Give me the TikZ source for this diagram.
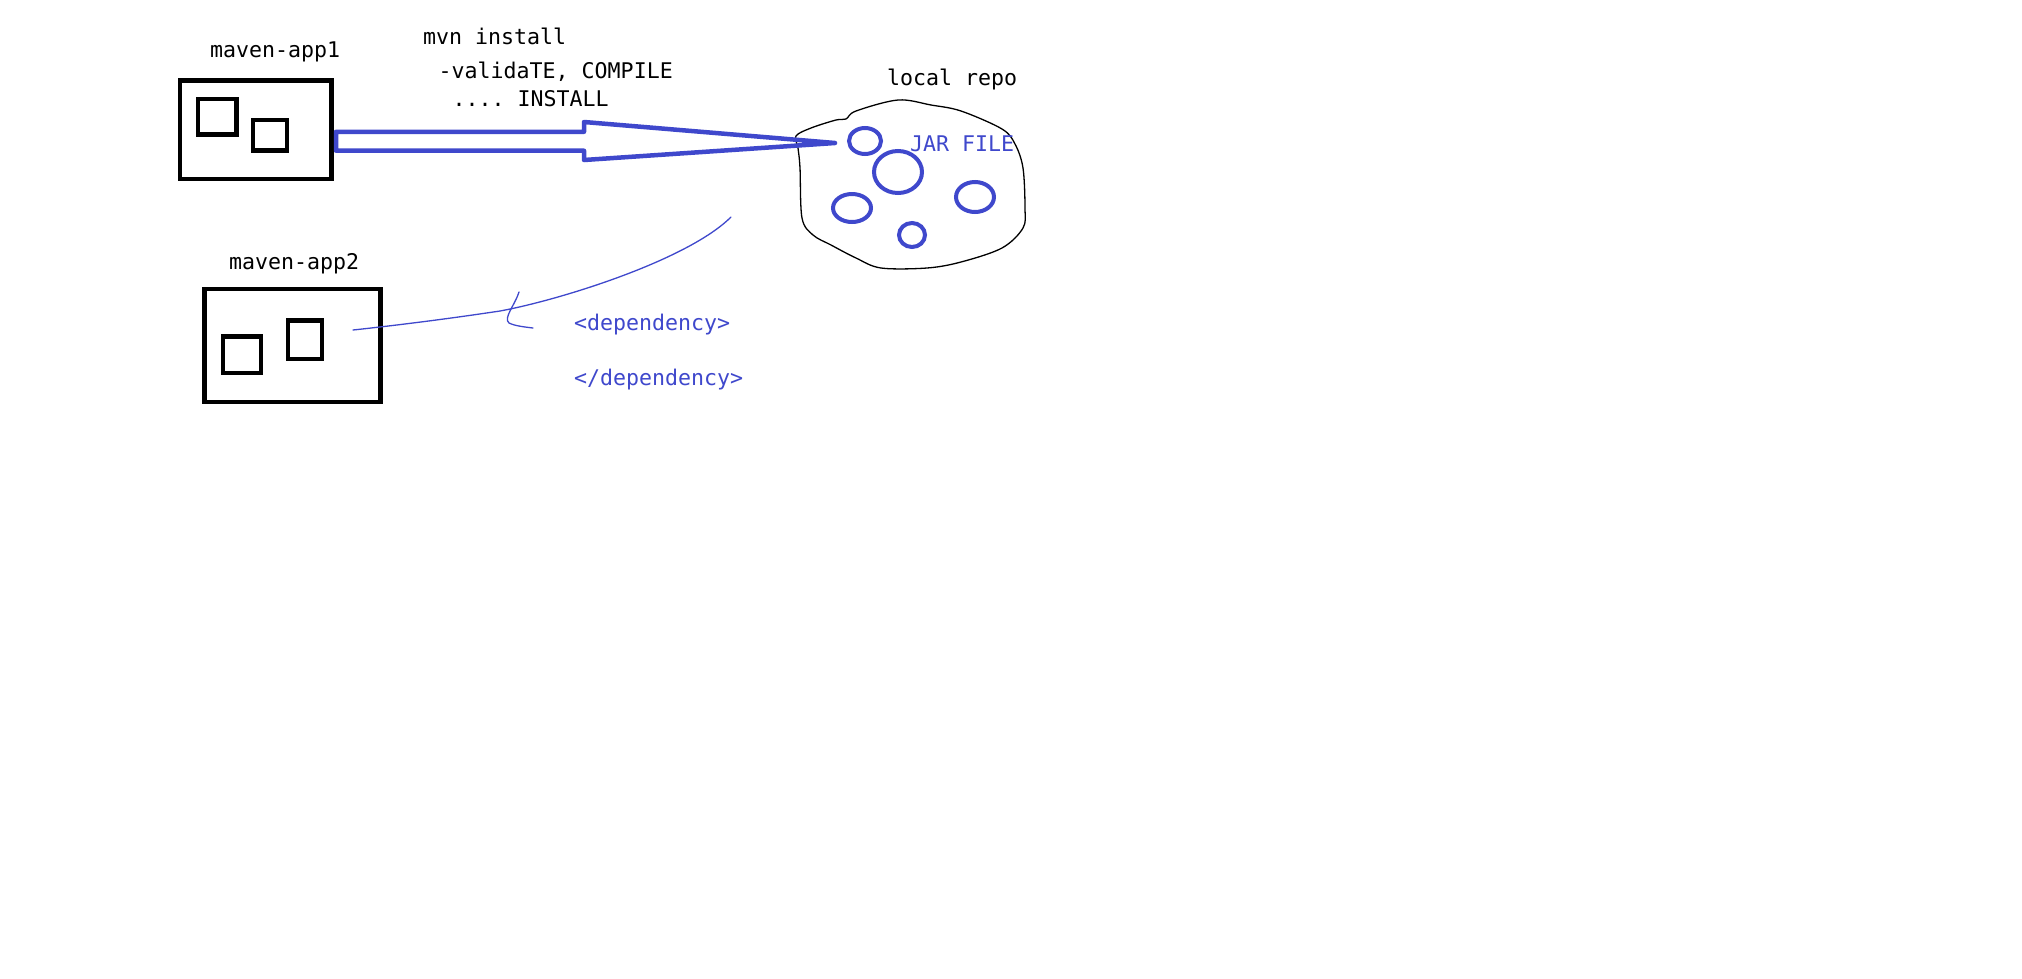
\documentclass[tikz,border=0pt]{standalone}
\usepackage{fontspec}
\setmonofont{DejaVu Sans Mono}
\usetikzlibrary{shapes.geometric}
\definecolor{pblue}{RGB}{63,72,204}
\begin{document}
\begin{tikzpicture}[x=1pt,y=-1pt,
  lbl/.style={font=\ttfamily\fontsize{21.6}{24}\selectfont, inner sep=0pt, anchor=base west},
  bluelbl/.style={lbl, text=pblue},
  appbox/.style={draw, line width=4.3pt, rectangle, inner sep=0pt},
  jar/.style={draw=pblue, line width=4pt, ellipse, inner sep=0pt},
  thinblue/.style={pblue, line width=1.3pt, line cap=round, line join=round}]
\fill[white] (0,0) rectangle (2022,978);
\useasboundingbox (0,0) rectangle (2022,978);

% maven-app1
\node[appbox, minimum width=151.6pt, minimum height=98.5pt] (app1) at (255.8,129.75) {};
\node[appbox, minimum width=38.5pt, minimum height=35.7pt] (app1a) at (217.25,116.55) {};
\node[appbox, minimum width=34pt, minimum height=30.6pt] (app1b) at (270,135.3) {};
\node[lbl] (l1) at (210,57) {maven-app1};

% maven-app2
\node[appbox, minimum width=176.1pt, minimum height=113pt] (app2) at (292.45,345.5) {};
\node[appbox, minimum width=38pt, minimum height=36.6pt] (app2a) at (242,354.7) {};
\node[appbox, minimum width=33.8pt, minimum height=38.5pt] (app2b) at (304.9,339.75) {};
\node[lbl] (l2) at (229,269) {maven-app2};

% command texts
\node[lbl] (mvn) at (423,44) {mvn install};
\node[lbl] (val) at (438.5,78.5) {-validaTE, COMPILE};
\node[lbl] (ins) at (452.5,106.6) {.... INSTALL};

% local repo cloud
\draw[black, line width=1.3pt] plot[smooth cycle, tension=0.55] coordinates {
 (846,119) (856,111) (898,100) (931,105) (961,111) (1002,129) (1015,144) (1023,168)
 (1025,208) (1023,228) (1002,248) (961,262) (927,268) (881,268) (856,258) (831,245)
 (813,235) (802,218) (800,168) (798,148) (796,136) (811,128) (836,120)};
\node[lbl] (lrepo) at (887,85) {local repo};
\node[jar, minimum width=32pt, minimum height=26pt] (j1) at (865,141) {};
\node[jar, minimum width=48pt, minimum height=42pt] (j2) at (898,172) {};
\node[jar, minimum width=38pt, minimum height=28pt] (j3) at (852,208) {};
\node[jar, minimum width=38pt, minimum height=30pt] (j4) at (975,197) {};
\node[jar, minimum width=26pt, minimum height=24pt] (j5) at (912,235) {};
\node[bluelbl] (jarlbl) at (910,151) {JAR FILE};

% block arrow mvn install -> local repo
\coordinate (tip) at (835,143);
\draw[pblue, line width=4.5pt, line join=round]
  (336,131.8) -- (584,131.8) -- (584,122) -- (tip) -- (584,160) -- (584,150.7) -- (336,150.7) -- cycle;

% dependency curve
\coordinate (cs) at (731,217);
\coordinate (cm) at (500,311);
\coordinate (ce) at (353,330);
\draw[thinblue] (cs) .. controls (688,260) and (560,300) .. (cm)
  .. controls (440,320) and (390,326) .. (ce);
\draw[thinblue] (519,292) .. controls (515,305) and (503,318) .. (509,323)
  .. controls (515,326) and (525,327) .. (533,328);

\node[bluelbl] (dep1) at (574,330) {<dependency>};
\node[bluelbl] (dep2) at (574,385) {</dependency>};
\end{tikzpicture}
\end{document}
